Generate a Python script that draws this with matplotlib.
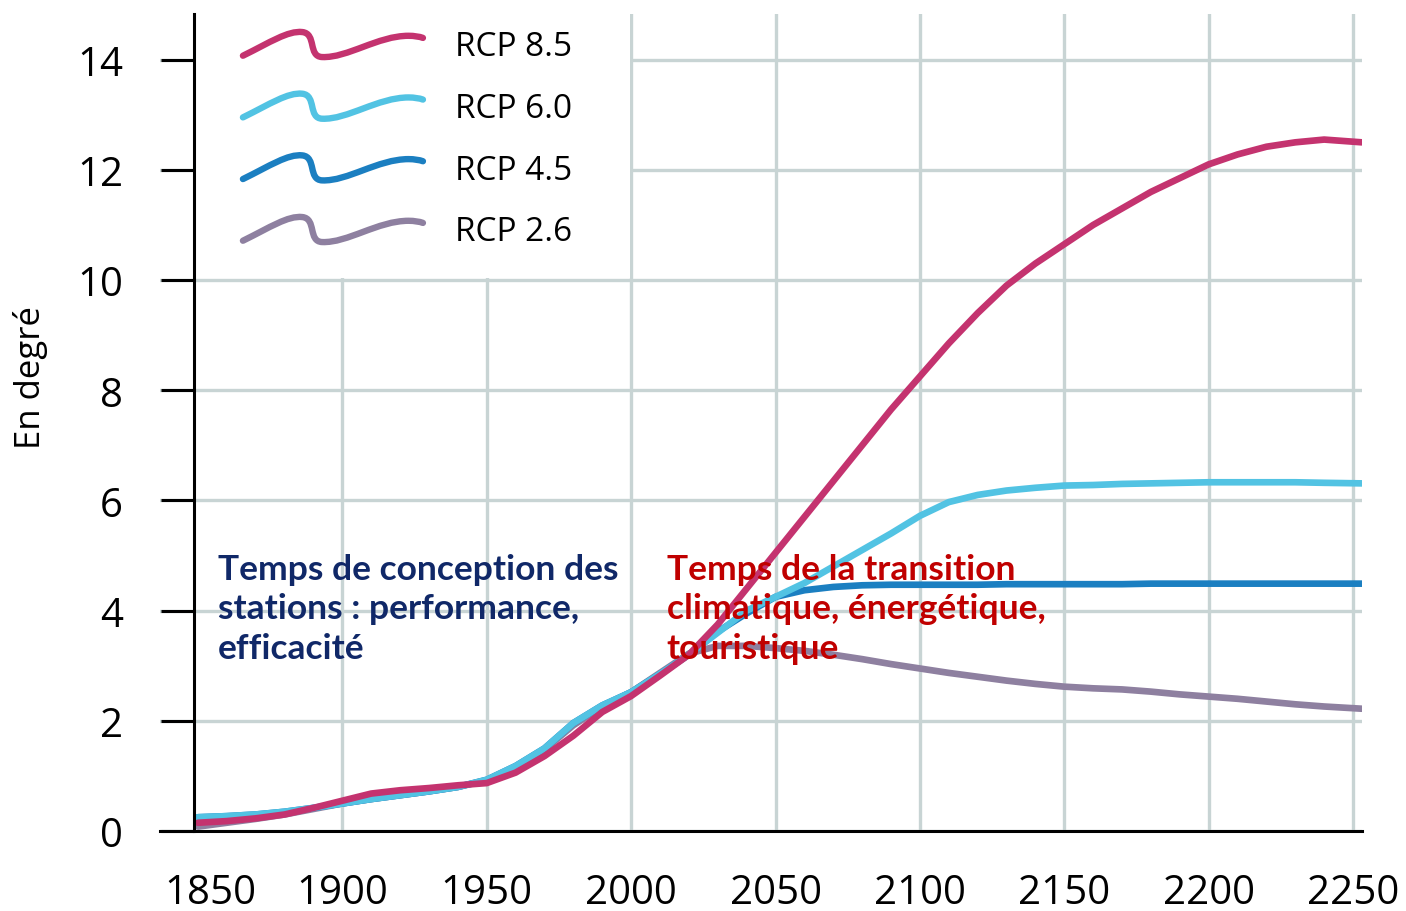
"""RCP warming scenarios 1850-2250 — recreation of the scenario chart."""

import matplotlib

matplotlib.use("Agg")
import matplotlib.pyplot as plt  # noqa: E402
import matplotlib.transforms as mtransforms  # noqa: E402
from matplotlib.legend_handler import HandlerBase  # noqa: E402
from matplotlib.lines import Line2D  # noqa: E402
from matplotlib.patches import PathPatch, Rectangle  # noqa: E402
from matplotlib.path import Path  # noqa: E402

# --- data --------------------------------------------------------------------
hist_years = [1850, 1860, 1870, 1880, 1890, 1900, 1910, 1920, 1930, 1940,
              1950, 1960, 1970, 1980, 1990, 2000, 2010, 2020]
proj_years = [2030, 2040, 2050, 2060, 2070, 2080, 2090, 2100, 2110, 2120,
              2130, 2140, 2150, 2160, 2170, 2180, 2190, 2200, 2210, 2220,
              2230, 2240, 2253]

hist_low = [0.25, 0.27, 0.30, 0.35, 0.42, 0.50, 0.58, 0.65, 0.72, 0.80,
            0.93, 1.18, 1.50, 1.96, 2.28, 2.52, 2.85, 3.20]
hist_85 = [0.15, 0.18, 0.23, 0.30, 0.42, 0.55, 0.68, 0.74, 0.78, 0.83,
           0.87, 1.06, 1.36, 1.73, 2.16, 2.45, 2.82, 3.20]
hist_26 = [0.08, 0.15, 0.22, 0.30, 0.40, 0.50, 0.58, 0.65, 0.72, 0.80,
           0.92, 1.15, 1.48, 1.92, 2.26, 2.52, 2.87, 3.22]

rcp85 = [3.75, 4.40, 5.05, 5.70, 6.35, 7.00, 7.65, 8.25, 8.85, 9.40,
         9.90, 10.30, 10.65, 11.00, 11.30, 11.60, 11.85, 12.10, 12.28, 12.42,
         12.50, 12.55, 12.50]
rcp60 = [3.60, 4.00, 4.25, 4.50, 4.80, 5.10, 5.40, 5.72, 5.97, 6.10,
         6.18, 6.23, 6.27, 6.28, 6.30, 6.31, 6.32, 6.33, 6.33, 6.33,
         6.33, 6.32, 6.31]
rcp45 = [3.62, 3.95, 4.25, 4.37, 4.43, 4.46, 4.47, 4.47, 4.47, 4.47,
         4.48, 4.48, 4.48, 4.48, 4.48, 4.49, 4.49, 4.49, 4.49, 4.49,
         4.49, 4.49, 4.49]
rcp26 = [3.36, 3.36, 3.32, 3.27, 3.20, 3.12, 3.03, 2.95, 2.87, 2.80,
         2.73, 2.67, 2.62, 2.59, 2.57, 2.53, 2.48, 2.44, 2.40, 2.35,
         2.30, 2.26, 2.22]

x_ticks = [1850, 1900, 1950, 2000, 2050, 2100, 2150, 2200, 2250]
y_ticks = [0, 2, 4, 6, 8, 10, 12, 14]

labels = ["RCP 8.5", "RCP 6.0", "RCP 4.5", "RCP 2.6"]
colors = ["#c4336f", "#52c3e3", "#1b7fc1", "#8e80a0"]

note_left = "Temps de conception des\nstations : performance,\nefficacité"
note_right = "Temps de la transition\nclimatique, énergétique,\ntouristique"


class SquiggleHandler(HandlerBase):
    """Hand-drawn wave used as legend key."""

    def create_artists(self, legend, orig_handle, xdescent, ydescent,
                       width, height, fontsize, trans):
        pts = [(0.00, 0.05), (0.15, 0.55), (0.25, 1.00), (0.33, 0.94),
               (0.41, 0.88), (0.36, 0.02), (0.44, 0.00),
               (0.58, -0.04), (0.75, 0.80), (0.92, 0.80),
               (0.97, 0.80), (1.00, 0.72)]
        codes = [Path.MOVETO] + [Path.CURVE4] * 9 + [Path.CURVE3] * 2
        verts = [(x * width - xdescent, y * height - ydescent) for x, y in pts]
        patch = PathPatch(Path(verts, codes), fill=False,
                          edgecolor=orig_handle.get_color(), lw=4.6,
                          capstyle="round", joinstyle="round")
        patch.set_transform(trans)
        return [patch]


fig = plt.figure(figsize=(14.06, 9.12), dpi=100)
ax = fig.add_axes([0.1138, 0.0877, 0.8549, 0.8959])

ax.set_xlim(1836.85, 2253.1)
ax.set_ylim(0, 14.83)

series = [
    ("RCP 2.6", hist_26, rcp26, colors[3]),
    ("RCP 4.5", hist_low, rcp45, colors[2]),
    ("RCP 6.0", hist_low, rcp60, colors[1]),
    ("RCP 8.5", hist_85, rcp85, colors[0]),
]
for name, hist, proj, col in series:
    ax.plot(hist_years + proj_years, hist + proj, color=col, lw=4.8,
            solid_capstyle="round", solid_joinstyle="round", zorder=3)

# grid + white patch behind the legend
ax.set_xticks(x_ticks)
ax.set_yticks(y_ticks)
ax.set_axisbelow(True)
ax.grid(True, color="#c8d4d4", lw=2.4)
ax.get_xgridlines()[0].set_visible(False)
ax.add_patch(Rectangle((1848.6, 10.04), 2000 - 1848.6 - 0.55, 5.0,
                       facecolor="white", edgecolor="none", zorder=1))

for side in ("top", "right"):
    ax.spines[side].set_visible(False)
ax.spines["left"].set_position(("data", 1848.6))
ax.spines["left"].set_linewidth(2.2)
ax.spines["bottom"].set_linewidth(2.2)
ax.spines["left"].set_zorder(4)
ax.spines["bottom"].set_zorder(4)

tick_font = dict(family="Open Sans", size=29)
ax.tick_params(axis="y", length=24, width=2.2, pad=27, direction="out")
ax.tick_params(axis="x", length=0, pad=30)
ax.set_xticklabels([str(v) for v in x_ticks], fontdict=tick_font)
ax.set_yticklabels([str(v) for v in y_ticks], fontdict=tick_font)
first = ax.get_xticklabels()[0]
first.set_transform(first.get_transform()
                    + mtransforms.ScaledTranslation(9 / 72, 0, fig.dpi_scale_trans))

ax.set_ylabel("En degré", family="Open Sans", size=25)
ax.yaxis.set_label_coords(-0.093, 0.556)

handles = [Line2D([], [], color=c) for c in colors]
ax.legend(handles, labels, handler_map={Line2D: SquiggleHandler()},
          loc="upper left", bbox_to_anchor=(0.069, 0.98), frameon=False,
          prop={"family": "Open Sans", "size": 24}, handlelength=5.4,
          handleheight=0.85, handletextpad=0.95, labelspacing=0.86,
          borderpad=0, borderaxespad=0)

note_font = dict(family="Lato", weight="bold", size=25.5, linespacing=1.29)
ax.text(1856.9, 5.05, note_left, color="#102868", va="top", ha="left",
        zorder=5, **note_font)
ax.text(2012.3, 5.05, note_right, color="#c00000", va="top", ha="left",
        zorder=5, **note_font)

fig.savefig("out.png", dpi=100)
